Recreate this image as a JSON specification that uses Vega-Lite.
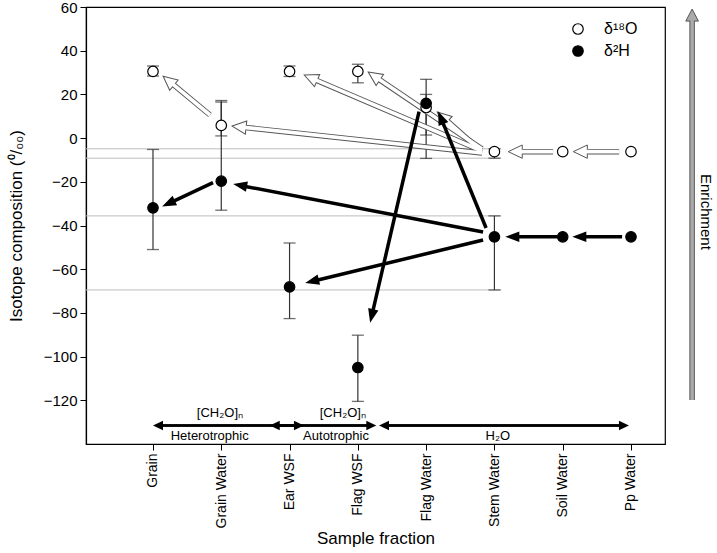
{
  "$schema": "https://vega.github.io/schema/vega-lite/v6.json",
  "width": 579,
  "height": 437,
  "autosize": {"type": "none"},
  "padding": {"left": 86, "top": 7, "right": 52, "bottom": 109},
  "config": {
    "font": "Liberation Sans",
    "view": {"stroke": "black", "strokeWidth": 1.2},
    "axis": {
      "domainColor": "black", "tickColor": "black", "labelColor": "black", "titleColor": "black",
      "labelFontSize": 15, "titleFontSize": 17, "titleFontWeight": "normal", "tickSize": 6, "grid": false, "domainWidth": 1.2
    }
  },
  "datasets": {
    "pts": [
      {"iso": "δ¹⁸O", "x": 0, "y": 30.5, "lo": 28.4, "hi": 33.0},
      {"iso": "δ¹⁸O", "x": 1, "y": 5.8, "lo": 1.0, "hi": 17.2},
      {"iso": "δ¹⁸O", "x": 2, "y": 30.5, "lo": 28.2, "hi": 33.0},
      {"iso": "δ¹⁸O", "x": 3, "y": 30.5, "lo": 25.3, "hi": 33.8},
      {"iso": "δ¹⁸O", "x": 4, "y": 14.0, "lo": 1.4, "hi": 20.0},
      {"iso": "δ¹⁸O", "x": 5, "y": -6.2, "lo": -9.2, "hi": -4.9},
      {"iso": "δ¹⁸O", "x": 6, "y": -6.2, "lo": null, "hi": null},
      {"iso": "δ¹⁸O", "x": 7, "y": -6.2, "lo": null, "hi": null},
      {"iso": "δ²H", "x": 0, "y": -31.9, "lo": -51.0, "hi": -5.2},
      {"iso": "δ²H", "x": 1, "y": -19.7, "lo": -33.0, "hi": 16.5},
      {"iso": "δ²H", "x": 2, "y": -68.1, "lo": -82.6, "hi": -48.0},
      {"iso": "δ²H", "x": 3, "y": -105.0, "lo": -120.5, "hi": -90.2},
      {"iso": "δ²H", "x": 4, "y": 15.9, "lo": -9.3, "hi": 26.9},
      {"iso": "δ²H", "x": 5, "y": -45.2, "lo": -69.5, "hi": -35.6},
      {"iso": "δ²H", "x": 6, "y": -45.2, "lo": null, "hi": null},
      {"iso": "δ²H", "x": 7, "y": -45.2, "lo": null, "hi": null}
    ],
    "refs": [
      {"x": -0.981, "x2": 5.1, "y": -4.9},
      {"x": -0.981, "x2": 5.1, "y": -9.2},
      {"x": -0.981, "x2": 5.1, "y": -35.6},
      {"x": -0.981, "x2": 5.1, "y": -69.5}
    ],
    "arr": [
      {"kind": "open", "x": 6.826, "y": -6.2, "x2": 6.299, "y2": -6.2},
      {"kind": "open", "x": 5.859, "y": -6.2, "x2": 5.346, "y2": -6.2},
      {"kind": "open", "x": 4.788, "y": -5.45, "x2": 4.27, "y2": 8.92},
      {"kind": "open", "x": 4.819, "y": -4.99, "x2": 3.271, "y2": 27.69},
      {"kind": "open", "x": 4.819, "y": -5.9, "x2": 2.347, "y2": 27.09},
      {"kind": "open", "x": 4.819, "y": -6.82, "x2": 1.302, "y2": 5.03},
      {"kind": "open", "x": 0.835, "y": 10.57, "x2": 0.259, "y2": 25.49},
      {"kind": "filled", "x": 6.87, "y": -45.2, "x2": 6.284, "y2": -45.2},
      {"kind": "filled", "x": 5.918, "y": -45.2, "x2": 5.303, "y2": -45.2},
      {"kind": "filled", "x": 4.878, "y": -41.14, "x2": 4.23, "y2": 8.19},
      {"kind": "filled", "x": 4.834, "y": -42.97, "x2": 1.315, "y2": -21.88},
      {"kind": "filled", "x": 4.834, "y": -46.64, "x2": 2.369, "y2": -65.26},
      {"kind": "filled", "x": 0.879, "y": -20.41, "x2": 0.264, "y2": -29.43},
      {"kind": "filled", "x": 3.896, "y": 12.08, "x2": 3.212, "y2": -80.18},
      {"kind": "bottom", "x": 2.108, "y": -131.5, "x2": 0.1025, "y2": -131.5},
      {"kind": "bottom", "x": 0.1025, "y": -131.5, "x2": 2.108, "y2": -131.5},
      {"kind": "bottom", "x": 3.1675, "y": -131.5, "x2": 1.8125, "y2": -131.5},
      {"kind": "bottom", "x": 1.8125, "y": -131.5, "x2": 3.1675, "y2": -131.5},
      {"kind": "bottom", "x": 6.8675, "y": -131.5, "x2": 3.4125, "y2": -131.5},
      {"kind": "bottom", "x": 3.4125, "y": -131.5, "x2": 6.8675, "y2": -131.5},
      {"kind": "enrich", "x": 7.895, "y": -119.9, "x2": 7.895, "y2": 55.2}
    ],
    "txt": [
      {"t": "[CH₂O]ₙ", "x": 0.98, "y": -125.8},
      {"t": "Heterotrophic", "x": 0.83, "y": -136.2},
      {"t": "[CH₂O]ₙ", "x": 2.78, "y": -125.8},
      {"t": "Autotrophic", "x": 2.68, "y": -136.2},
      {"t": "H₂O", "x": 5.05, "y": -136.2}
    ],
    "side": [
      {"t": "Enrichment", "x": 8.1, "y": -33.8}
    ]
  },
  "encoding": {
    "x": {
      "field": "x", "type": "quantitative",
      "scale": {"domain": [-0.981, 7.498], "nice": false, "zero": false},
      "axis": {
        "title": "Sample fraction", "values": [0, 1, 2, 3, 4, 5, 6, 7],
        "labelExpr": "['Grain','Grain Water','Ear WSF','Flag WSF','Flag Water','Stem Water','Soil Water','Pp Water'][datum.value]",
        "labelAngle": -90, "labelPadding": 3, "labelFontSize": 14, "titlePadding": 3
      }
    },
    "y": {
      "field": "y", "type": "quantitative",
      "scale": {"domain": [-140, 60], "nice": false, "zero": false},
      "axis": {
        "title": "Isotope composition (⁰/₀₀)", "values": [-120, -100, -80, -60, -40, -20, 0, 20, 40, 60],
        "labelPadding": 3, "titlePadding": 18
      }
    }
  },
  "layer": [
    {
      "data": {"name": "refs"},
      "mark": {"type": "rule", "color": "#bdbdbd", "strokeWidth": 1},
      "encoding": {"x2": {"field": "x2"}}
    },
    {
      "data": {"name": "pts"},
      "transform": [{"filter": "datum.lo != null"}],
      "mark": {"type": "rule", "color": "#333", "strokeWidth": 1.2},
      "encoding": {
        "y": {"field": "lo", "type": "quantitative", "scale": {"domain": [-140, 60], "nice": false, "zero": false}},
        "y2": {"field": "hi"}
      }
    },
    {
      "data": {"name": "pts"},
      "transform": [{"filter": "datum.lo != null"}],
      "mark": {"type": "tick", "orient": "horizontal", "size": 12, "thickness": 1.3, "color": "#333"},
      "encoding": {
        "y": {"field": "lo", "type": "quantitative", "scale": {"domain": [-140, 60], "nice": false, "zero": false}}
      }
    },
    {
      "data": {"name": "pts"},
      "transform": [{"filter": "datum.hi != null"}],
      "mark": {"type": "tick", "orient": "horizontal", "size": 12, "thickness": 1.3, "color": "#333"},
      "encoding": {
        "y": {"field": "hi", "type": "quantitative", "scale": {"domain": [-140, 60], "nice": false, "zero": false}}
      }
    },
    {
      "data": {"name": "arr"},
      "transform": [{"filter": "datum.kind === 'open'"}],
      "mark": {"type": "rule", "color": "#555", "strokeWidth": 5.5, "strokeCap": "butt"},
      "encoding": {"x2": {"field": "x2"}, "y2": {"field": "y2"}}
    },
    {
      "data": {"name": "arr"},
      "transform": [
        {"filter": "datum.kind === 'open'"},
        {"calculate": "atan2((datum.x2-datum.x)*68.28, (datum.y2-datum.y)*2.185)*180/PI", "as": "ang"}
      ],
      "mark": {"type": "point", "shape": "M0,-1.4L0.95,0.6L-0.95,0.6Z", "filled": true, "fill": "white", "stroke": "#555", "strokeWidth": 1, "size": 196, "opacity": 1},
      "encoding": {
        "x": {"field": "x2", "type": "quantitative", "scale": {"domain": [-0.981, 7.498], "nice": false, "zero": false}},
        "y": {"field": "y2", "type": "quantitative", "scale": {"domain": [-140, 60], "nice": false, "zero": false}},
        "angle": {"field": "ang", "type": "quantitative", "scale": null}
      }
    },
    {
      "data": {"name": "arr"},
      "transform": [{"filter": "datum.kind === 'open'"}],
      "mark": {"type": "rule", "color": "white", "strokeWidth": 3.6, "strokeCap": "butt"},
      "encoding": {"x2": {"field": "x2"}, "y2": {"field": "y2"}}
    },
    {
      "data": {"name": "arr"},
      "transform": [{"filter": "datum.kind === 'filled'"}],
      "mark": {"type": "rule", "color": "black", "strokeWidth": 3.5, "strokeCap": "butt"},
      "encoding": {"x2": {"field": "x2"}, "y2": {"field": "y2"}}
    },
    {
      "data": {"name": "arr"},
      "transform": [
        {"filter": "datum.kind === 'filled'"},
        {"calculate": "atan2((datum.x2-datum.x)*68.28, (datum.y2-datum.y)*2.185)*180/PI", "as": "ang"}
      ],
      "mark": {"type": "point", "shape": "M0,-1.4L0.75,0.6L-0.75,0.6Z", "filled": true, "fill": "black", "strokeWidth": 0, "size": 196, "opacity": 1},
      "encoding": {
        "x": {"field": "x2", "type": "quantitative", "scale": {"domain": [-0.981, 7.498], "nice": false, "zero": false}},
        "y": {"field": "y2", "type": "quantitative", "scale": {"domain": [-140, 60], "nice": false, "zero": false}},
        "angle": {"field": "ang", "type": "quantitative", "scale": null}
      }
    },
    {
      "data": {"name": "arr"},
      "transform": [{"filter": "datum.kind === 'bottom'"}],
      "mark": {"type": "rule", "color": "black", "strokeWidth": 2.5, "strokeCap": "butt"},
      "encoding": {"x2": {"field": "x2"}, "y2": {"field": "y2"}}
    },
    {
      "data": {"name": "arr"},
      "transform": [
        {"filter": "datum.kind === 'bottom'"},
        {"calculate": "atan2((datum.x2-datum.x)*68.28, (datum.y2-datum.y)*2.185)*180/PI", "as": "ang"}
      ],
      "mark": {"type": "point", "shape": "M0,-1.4L0.95,0.6L-0.95,0.6Z", "filled": true, "fill": "black", "strokeWidth": 0, "size": 100, "opacity": 1},
      "encoding": {
        "x": {"field": "x2", "type": "quantitative", "scale": {"domain": [-0.981, 7.498], "nice": false, "zero": false}},
        "y": {"field": "y2", "type": "quantitative", "scale": {"domain": [-140, 60], "nice": false, "zero": false}},
        "angle": {"field": "ang", "type": "quantitative", "scale": null}
      }
    },
    {
      "data": {"name": "arr"},
      "transform": [{"filter": "datum.kind === 'enrich'"}],
      "mark": {"type": "rule", "color": "#555", "strokeWidth": 5.5, "strokeCap": "butt"},
      "encoding": {"x2": {"field": "x2"}, "y2": {"field": "y2"}}
    },
    {
      "data": {"name": "arr"},
      "transform": [
        {"filter": "datum.kind === 'enrich'"},
        {"calculate": "atan2((datum.x2-datum.x)*68.28, (datum.y2-datum.y)*2.185)*180/PI", "as": "ang"}
      ],
      "mark": {"type": "point", "shape": "M0,-1.4L1.05,0.6L-1.05,0.6Z", "filled": true, "fill": "#aaa", "stroke": "#555", "strokeWidth": 1, "size": 144, "opacity": 1},
      "encoding": {
        "x": {"field": "x2", "type": "quantitative", "scale": {"domain": [-0.981, 7.498], "nice": false, "zero": false}},
        "y": {"field": "y2", "type": "quantitative", "scale": {"domain": [-140, 60], "nice": false, "zero": false}},
        "angle": {"field": "ang", "type": "quantitative", "scale": null}
      }
    },
    {
      "data": {"name": "arr"},
      "transform": [{"filter": "datum.kind === 'enrich'"}],
      "mark": {"type": "rule", "color": "#aaa", "strokeWidth": 3.5, "strokeCap": "butt"},
      "encoding": {"x2": {"field": "x2"}, "y2": {"field": "y2"}}
    },
    {
      "data": {"name": "pts"},
      "mark": {"type": "point", "shape": "circle", "filled": true, "size": 110, "stroke": "black", "strokeWidth": 1.2, "opacity": 1},
      "encoding": {
        "fill": {
          "field": "iso", "type": "nominal",
          "scale": {"domain": ["δ¹⁸O", "δ²H"], "range": ["white", "black"]},
          "legend": {
            "title": null, "orient": "none", "legendX": 484, "legendY": 14,
            "labelFontSize": 16, "labelColor": "black", "symbolSize": 110, "symbolType": "circle",
            "symbolStrokeColor": "black", "symbolStrokeWidth": 1.2, "labelOffset": 18, "rowPadding": 6, "padding": 0
          }
        }
      }
    },
    {
      "data": {"name": "txt"},
      "mark": {"type": "text", "fontSize": 13, "align": "center", "baseline": "middle", "color": "black"},
      "encoding": {"text": {"field": "t"}}
    },
    {
      "data": {"name": "side"},
      "mark": {"type": "text", "fontSize": 15, "align": "center", "baseline": "middle", "angle": 90, "color": "black"},
      "encoding": {"text": {"field": "t"}}
    }
  ]
}
